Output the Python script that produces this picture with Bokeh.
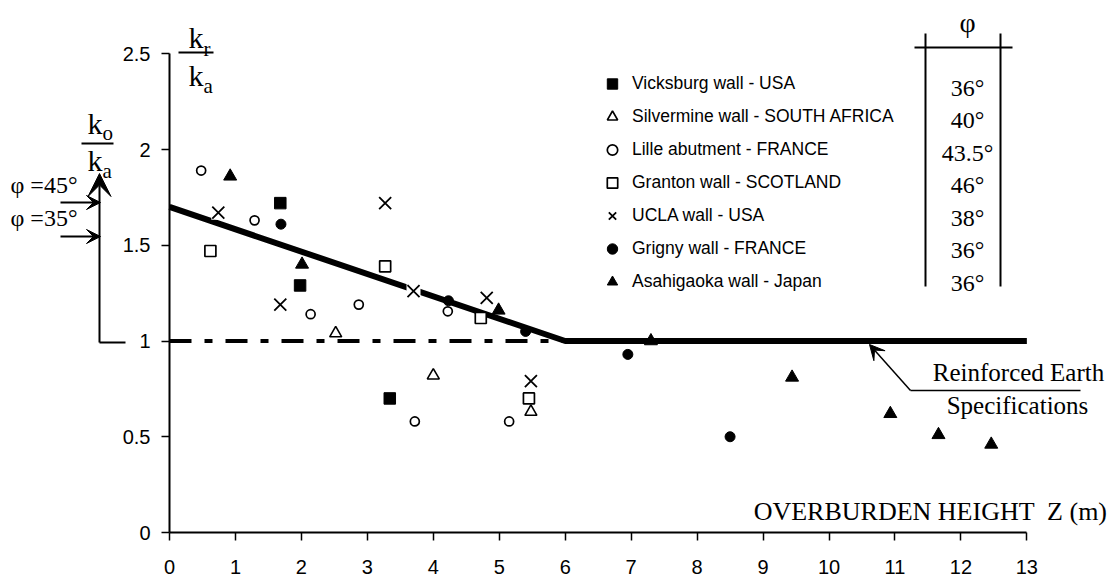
from bokeh.plotting import figure
from bokeh.models import Range1d, FixedTicker, Label, Arrow, VeeHead, Legend, LegendItem
from bokeh.embed import file_html
from bokeh.resources import INLINE

# ---------------- data ----------------
vicksburg_z = [1.68, 1.98, 3.34]
vicksburg_k = [1.72, 1.29, 0.70]
silvermine_z = [2.52, 4.00, 5.48]
silvermine_k = [1.04, 0.82, 0.63]
lille_z = [0.48, 1.29, 2.14, 2.87, 3.72, 4.22, 5.15]
lille_k = [1.89, 1.63, 1.14, 1.19, 0.58, 1.155, 0.58]
granton_z = [0.62, 3.27, 4.72, 5.45]
granton_k = [1.47, 1.39, 1.12, 0.70]
ucla_z = [0.74, 1.68, 3.27, 3.70, 4.81, 5.48]
ucla_k = [1.67, 1.19, 1.72, 1.26, 1.225, 0.79]
grigny_z = [1.69, 4.23, 5.40, 6.95, 8.50]
grigny_k = [1.61, 1.21, 1.05, 0.93, 0.50]
asahi_z = [0.92, 2.01, 4.99, 7.30, 9.44, 10.93, 11.66, 12.46]
asahi_k = [1.86, 1.40, 1.16, 1.00, 0.81, 0.62, 0.51, 0.46]

spec_z = [0, 6, 13]
spec_k = [1.7, 1.0, 1.0]
ko_z = [0, 6]
ko_k = [1.0, 1.0]

wall_names = [
    "Vicksburg wall - USA",
    "Silvermine wall - SOUTH AFRICA",
    "Lille abutment - FRANCE",
    "Granton wall - SCOTLAND",
    "UCLA wall - USA",
    "Grigny wall - FRANCE",
    "Asahigaoka wall - Japan",
]
wall_phi = ["36°", "40°", "43.5°", "46°", "38°", "36°", "36°"]

x_ticks = list(range(14))
x_tick_labels = [str(t) for t in x_ticks]
y_ticks = [0, 0.5, 1, 1.5, 2, 2.5]
y_tick_labels = ["0", "0.5", "1", "1.5", "2", "2.5"]

# ---------------- layout helpers (page px -> data) ----------------
W, H = 1114, 581
X0P, XS = 169.0, 65.95
Y0P, YS = 532.0, 191.5


def dx(px):
    return (px - X0P) / XS


def dy(py):
    return (Y0P - py) / YS


SERIF = "Liberation Serif"
SANS = "Liberation Sans"

p = figure(width=W, height=H, output_backend="svg", toolbar_location=None,
           x_range=Range1d(dx(0), dx(W)), y_range=Range1d(dy(H), dy(0)),
           min_border_left=0, min_border_right=0, min_border_top=0, min_border_bottom=0)
p.outline_line_color = None
p.xgrid.visible = False
p.ygrid.visible = False

for ax in (p.xaxis[0], p.yaxis[0]):
    ax.axis_line_width = 2
    ax.axis_line_color = "black"
    ax.major_tick_line_width = 1.5
    ax.major_tick_line_color = "black"
    ax.major_tick_out = 8
    ax.major_tick_in = 0
    ax.minor_tick_line_color = None
    ax.major_label_text_font = SANS
    ax.major_label_text_font_size = "20px"
    ax.major_label_text_color = "black"
    ax.fixed_location = 0

p.xaxis.ticker = FixedTicker(ticks=x_ticks)
p.xaxis.major_label_overrides = dict(zip(x_ticks, x_tick_labels))
p.xaxis.bounds = (0, 13)
p.xaxis.major_label_standoff = 19
p.yaxis.ticker = FixedTicker(ticks=y_ticks)
p.yaxis.major_label_overrides = dict(zip(y_ticks, y_tick_labels))
p.yaxis.bounds = (0, 2.5)
p.yaxis.major_label_standoff = 11

# ---------------- lines ----------------
p.line(ko_z, ko_k, line_width=4, line_color="black", line_dash="22 13 8 13")
p.line(spec_z, spec_k, line_width=6, line_color="black")

# ---------------- markers ----------------
r_vick = p.scatter(vicksburg_z, vicksburg_k, marker="square", size=11.5,
                   fill_color="black", line_color="black")
r_silv = p.scatter(silvermine_z, silvermine_k, marker="triangle", size=12,
                   fill_color="white", line_color="black", line_width=1.6)
r_lille = p.scatter(lille_z, lille_k, marker="circle", size=9,
                    fill_color="white", line_color="black", line_width=1.7)
r_gran = p.scatter(granton_z, granton_k, marker="square", size=11,
                   fill_color="white", line_color="black", line_width=1.7)
p.scatter(ucla_z, ucla_k, marker="square", size=14, fill_color="white", line_color=None)
r_ucla = p.scatter(ucla_z, ucla_k, marker="x", size=17, line_color="black", line_width=1.8)
r_grig = p.scatter(grigny_z, grigny_k, marker="circle", size=10,
                   fill_color="black", line_color="black")
r_asahi = p.scatter(asahi_z, asahi_k, marker="triangle", size=13,
                    fill_color="black", line_color="black")

renderers = [r_vick, r_silv, r_lille, r_gran, r_ucla, r_grig, r_asahi]
leg_left, leg_top, row_h = 599, 66.5, 33
legend = Legend(items=[LegendItem(label=n, renderers=[r]) for n, r in zip(wall_names, renderers)],
                location=(leg_left, H - (leg_top + row_h * len(wall_names))),
                orientation="vertical",
                glyph_width=26, glyph_height=row_h, spacing=0, padding=0, margin=0,
                label_standoff=7, label_height=20,
                label_text_font=SANS, label_text_font_size="17.5px", label_text_color="black",
                border_line_color=None, background_fill_alpha=0)
p.add_layout(legend)

# ---------------- phi table ----------------
p.segment(x0=[dx(925), dx(1000), dx(914)], y0=[dy(33), dy(33), dy(47)],
          x1=[dx(925), dx(1000), dx(1012)], y1=[dy(286), dy(286), dy(47)],
          line_color="black", line_width=2)
p.add_layout(Label(x=dx(967), y=dy(22), text="φ", text_align="center", text_baseline="middle",
                   text_font=SERIF, text_font_size="28px", text_color="black"))
for i, ph in enumerate(wall_phi):
    p.add_layout(Label(x=dx(967), y=dy(87 + 32.5 * i), text=ph, text_align="center",
                       text_baseline="middle", text_font=SERIF, text_font_size="24px",
                       text_color="black"))

# ---------------- Reinforced Earth annotation ----------------
p.add_layout(Label(x=dx(1018), y=dy(372), text="Reinforced Earth", text_align="center",
                   text_baseline="middle", text_font=SERIF, text_font_size="25px", text_color="black"))
p.add_layout(Label(x=dx(1017), y=dy(405), text="Specifications", text_align="center",
                   text_baseline="middle", text_font=SERIF, text_font_size="25px", text_color="black"))
p.add_layout(Arrow(x_start=dx(910), y_start=dy(390), x_end=dx(1080), y_end=dy(390),
                   end=None, line_width=1.5, line_color="black"))
p.add_layout(Arrow(x_start=dx(910), y_start=dy(390), x_end=dx(869), y_end=dy(344),
                   end=VeeHead(size=15, fill_color="black", line_color="black"),
                   line_width=1.5, line_color="black"))

# ---------------- x axis title ----------------
p.add_layout(Label(x=dx(1107), y=dy(511), text="OVERBURDEN HEIGHT \u00a0Z (m)", text_align="right",
                   text_baseline="middle", text_font=SERIF, text_font_size="26px", text_color="black"))


# ---------------- kr / ka ----------------
def frac_part(px, pyb, main, sub, sub_dx, sub_dy):
    p.add_layout(Label(x=dx(px), y=dy(pyb - 0.32 * 30), text=main, text_align="left",
                       text_baseline="alphabetic", text_font=SERIF, text_font_size="30px",
                       text_color="black"))
    p.add_layout(Label(x=dx(px + sub_dx), y=dy(pyb + sub_dy - 0.32 * 21), text=sub, text_align="left",
                       text_baseline="alphabetic", text_font=SERIF, text_font_size="21px",
                       text_color="black"))


frac_part(188, 47, "k", "r", 15, 8)
frac_part(188, 85, "k", "a", 15, 7)
p.add_layout(Arrow(x_start=dx(178), y_start=dy(52), x_end=dx(213), y_end=dy(52),
                   end=None, line_width=2, line_color="black"))

frac_part(87, 133, "k", "o", 15, 6)
frac_part(87, 170, "k", "a", 15, 7)
p.add_layout(Arrow(x_start=dx(81), y_start=dy(143), x_end=dx(113), y_end=dy(143),
                   end=None, line_width=2, line_color="black"))

# ---------------- phi 45 / 35 annotation ----------------
p.add_layout(Label(x=dx(10), y=dy(184), text="φ =45°", text_align="left", text_baseline="middle",
                   text_font=SERIF, text_font_size="24px", text_color="black"))
p.add_layout(Label(x=dx(10), y=dy(217), text="φ =35°", text_align="left", text_baseline="middle",
                   text_font=SERIF, text_font_size="24px", text_color="black"))
for yy in (202, 236):
    p.add_layout(Arrow(x_start=dx(60), y_start=dy(yy), x_end=dx(100), y_end=dy(yy),
                       end=VeeHead(size=14, fill_color="black", line_color="black"),
                       line_width=2, line_color="black"))
p.add_layout(Arrow(x_start=dx(99), y_start=dy(342), x_end=dx(99), y_end=dy(173),
                   end=VeeHead(size=23, fill_color="black", line_color="black"),
                   line_width=2, line_color="black"))
p.add_layout(Arrow(x_start=dx(99), y_start=dy(342), x_end=dx(125), y_end=dy(342),
                   end=None, line_width=2, line_color="black"))

open("out.html", "w").write(file_html(p, INLINE))
